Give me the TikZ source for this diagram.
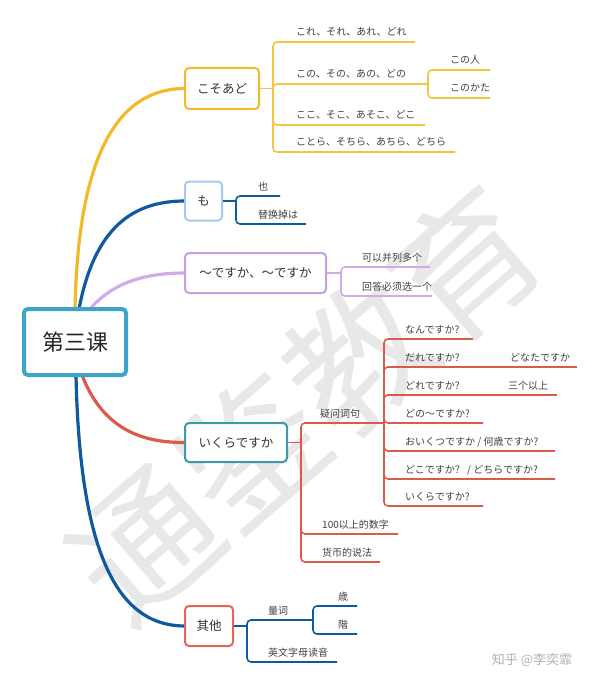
\documentclass[tikz,border=0pt]{standalone}
\usepackage{fontspec}
\setmainfont{Noto Sans CJK SC}
\definecolor{cyel}{HTML}{F2BA2A}
\definecolor{cyelL}{HTML}{F4C542}
\definecolor{cblue}{HTML}{0E5A9E}
\definecolor{cblueL}{HTML}{A7C9EE}
\definecolor{cpur}{HTML}{D3AAE6}
\definecolor{cpurB}{HTML}{C7A0DC}
\definecolor{cred}{HTML}{DB5B4A}
\definecolor{cteal}{HTML}{3D99A5}
\definecolor{croot}{HTML}{3CA4C8}
\definecolor{cother}{HTML}{E0665A}
\newcommand\mmleaf[7]{%
  \node[leaf, anchor=base west] (#1) at (#5,#4-6) {#7};
  \coordinate (#1e) at (#6,#4);
  \draw[sub, #2] (#3) |- (#1e);
}
\newcommand\mminline[7]{%
  \node[leaf, anchor=base west] (#1) at (#5,#4-6) {#7};
  \coordinate (#1e) at (#6,#4);
  \draw[sub, #2] (#3) -- (#1e);
}
\begin{document}
\begin{tikzpicture}[x=1pt,y=-1pt,
  box/.style={draw, rounded corners=4pt, line width=2pt, fill=white, inner sep=0pt,
    text=black!80, font=\fontsize{12.5}{15}\selectfont},
  rootbox/.style={draw=croot, rounded corners=4pt, line width=4pt, fill=white, inner sep=0pt,
    text=black!85, font=\fontsize{22}{26}\selectfont, minimum width=102pt, minimum height=66pt},
  leaf/.style={inner sep=0pt, text=black!75, font=\fontsize{10}{12}\selectfont},
  sub/.style={line width=1.6pt, rounded corners=4pt},
  branch/.style={line width=3.2pt},
]
\useasboundingbox (0,0) rectangle (600,687);
\fill[white] (0,0) rectangle (600,687);
% watermark
\node[rotate=41, text=black!9, font=\fontsize{142}{142}\selectfont, inner sep=0pt] (wm) at (305,404) {通鉴教育};
\node[text=black!30, font=\fontsize{13}{15}\selectfont, inner sep=0pt] (zh) at (532,660) {知乎 @李奕霏};

% branch connectors (drawn first)
\coordinate (r1) at (75,309);
\coordinate (r2) at (79,309);
\coordinate (r3) at (90,309);
\coordinate (r4) at (82,375);
\coordinate (r5) at (76,375);
\coordinate (kb0) at (185,88.5);
\coordinate (mb0) at (185,201);
\coordinate (db0) at (185,273);
\coordinate (ib0) at (185,442.5);
\coordinate (ob0) at (185,626);
\draw[branch, cyel] (r1) .. controls (78,160) and (115,88.5) .. (kb0);
\draw[branch, cblue] (r2) .. controls (95,225) and (135,201) .. (mb0);
\draw[branch, cpur] (r3) .. controls (115,280) and (150,273) .. (db0);
\draw[branch, cred] (r4) .. controls (105,435) and (150,442.5) .. (ib0);
\draw[branch, cblue] (r5) .. controls (80,570) and (125,626) .. (ob0);

% root
\node[rootbox] (root) at (75,342) {第三课};

% main boxes
\node[box, draw=cyel, minimum width=74pt, minimum height=41pt] (kosoado) at (222,88.5) {こそあど};
\node[box, draw=cblueL, minimum width=37pt, minimum height=39pt] (mo) at (203.5,201) {も};
\node[box, draw=cpurB, minimum width=141pt, minimum height=40pt] (desuka) at (255.5,273) {～ですか、～ですか};
\node[box, draw=cteal, minimum width=102pt, minimum height=39pt] (ikura) at (236,442.5) {いくらですか};
\node[box, draw=cother, minimum width=48pt, minimum height=40pt] (other) at (209,626) {其他};

% こそあど
\coordinate (kb) at (273,88.5);
\draw[sub, cyelL] (kosoado.east) -- (kb);
\mmleaf{k1}{cyelL}{kb}{42}{296}{415}{これ、それ、あれ、どれ}
\mmleaf{k2}{cyelL}{kb}{84}{296}{428}{この、その、あの、どの}
\mmleaf{k3}{cyelL}{kb}{125}{296}{425}{ここ、そこ、あそこ、どこ}
\mmleaf{k4}{cyelL}{kb}{152}{296}{455}{ことら、そちら、あちら、どちら}
\mmleaf{k21}{cyelL}{k2e}{70}{450}{490}{この人}
\mmleaf{k22}{cyelL}{k2e}{98}{450}{490}{このかた}

% も
\coordinate (mb) at (236,201);
\draw[sub, cblue] (mo.east) -- (mb);
\mmleaf{m1}{cblue}{mb}{196}{258}{280}{也}
\mmleaf{m2}{cblue}{mb}{224}{258}{306}{替换掉は}

% ですか
\coordinate (db) at (341,273);
\draw[sub, cpur] (desuka.east) -- (db);
\mmleaf{d1}{cpur}{db}{267}{362}{430}{可以并列多个}
\mmleaf{d2}{cpur}{db}{296}{362}{432}{回答必须选一个}

% いくらですか
\coordinate (ib) at (301,442.5);
\draw[sub, cred] (ikura.east) -- (ib);
\mmleaf{i1}{cred}{ib}{423}{320}{384}{疑问词句}
\mmleaf{i2}{cred}{ib}{534}{322}{398}{100以上的数字}
\mmleaf{i3}{cred}{ib}{562}{322}{380}{货币的说法}
\mmleaf{q1}{cred}{i1e}{339}{405}{473}{なんですか?}
\mmleaf{q2}{cred}{i1e}{367}{405}{475}{だれですか?}
\mmleaf{q3}{cred}{i1e}{395}{405}{475}{どれですか?}
\mmleaf{q4}{cred}{i1e}{423}{405}{483}{どの～ですか?}
\mmleaf{q5}{cred}{i1e}{451}{405}{555}{おいくつですか / 何歳ですか?}
\mmleaf{q6}{cred}{i1e}{479}{405}{555}{どこですか？ / どちらですか?}
\mmleaf{q7}{cred}{i1e}{506}{405}{483}{いくらですか?}
\mminline{q21}{cred}{q2e}{367}{510}{577}{どなたですか}
\mminline{q31}{cred}{q3e}{395}{508}{557}{三个以上}

% 其他
\coordinate (ob) at (247,626);
\draw[sub, cblue] (other.east) -- (ob);
\mmleaf{o1}{cblue}{ob}{620}{268}{313}{量词}
\mmleaf{o2}{cblue}{ob}{662}{268}{337}{英文字母读音}
\mmleaf{o11}{cblue}{o1e}{606}{338}{357}{歳}
\mmleaf{o12}{cblue}{o1e}{634}{338}{357}{階}
\end{tikzpicture}
\end{document}
